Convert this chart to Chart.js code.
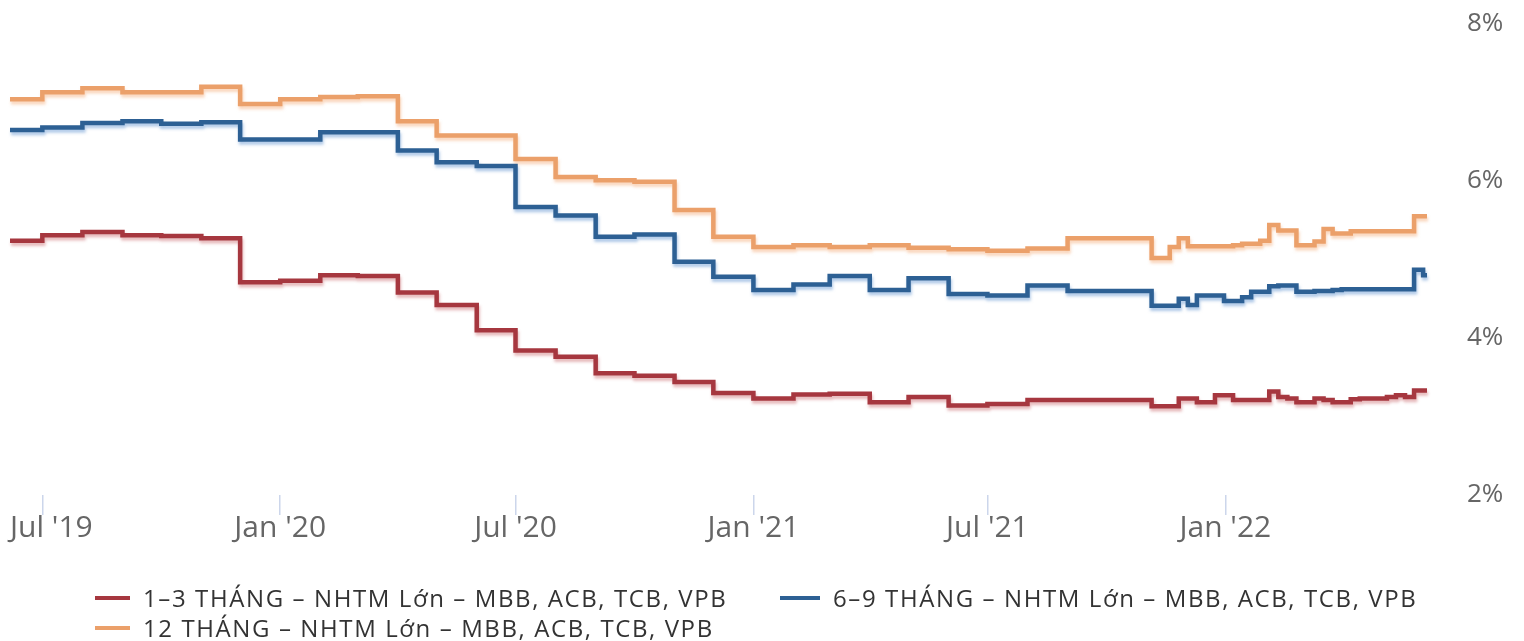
<!DOCTYPE html>
<html>
<head>
<meta charset="utf-8">
<script src="https://cdn.jsdelivr.net/npm/chart.js@4.4.1/dist/chart.umd.min.js"></script>
<style>
  html, body { margin: 0; padding: 0; background: #fff; }
  #wrap { position: relative; width: 1524px; height: 641px; }
  canvas { position: absolute; left: 0; top: 0; }
  .lg { position: absolute; font-family: 'Open Sans', sans-serif; font-size: 24px; letter-spacing: 1.6px; color: #333; white-space: nowrap; line-height: 30px; }
  .sw { position: absolute; height: 4px; }
</style>
</head>
<body>
<div id="wrap">
  <canvas id="c" width="1524" height="641"></canvas>
  <div id="legend"></div>
</div>
<script>
// ---- data ----
const dates = [
  '2019-06-06','2019-07-01','2019-08-01','2019-09-01','2019-10-01','2019-11-01','2019-12-01',
  '2020-01-01','2020-02-01','2020-03-01','2020-04-01','2020-05-01','2020-06-01','2020-07-01',
  '2020-08-01','2020-09-01','2020-10-01','2020-11-01','2020-12-01',
  '2021-01-01','2021-02-01','2021-03-01','2021-04-01','2021-05-01','2021-06-01','2021-07-01',
  '2021-08-01','2021-09-01','2021-10-01',
  '2021-11-05','2021-11-12','2021-11-19','2021-11-26','2021-12-03','2021-12-10','2021-12-17',
  '2021-12-24','2021-12-31','2022-01-07','2022-01-14','2022-01-21','2022-01-28','2022-02-04',
  '2022-02-11','2022-02-18','2022-02-25','2022-03-04','2022-03-11','2022-03-18','2022-03-25',
  '2022-04-01','2022-04-08','2022-04-15','2022-04-22','2022-04-29','2022-05-06','2022-05-13',
  '2022-05-20','2022-05-27','2022-06-03','2022-06-06'
];
const rate1to3 = [
  5.24,5.31,5.35,5.31,5.30,5.27,4.71,
  4.73,4.80,4.79,4.58,4.42,4.10,3.84,
  3.76,3.55,3.52,3.44,3.30,
  3.23,3.28,3.29,3.18,3.25,3.14,3.16,
  3.21,3.21,3.21,
  3.13,3.13,3.13,3.23,3.23,3.18,3.18,
  3.27,3.27,3.21,3.21,3.21,3.21,3.32,
  3.25,3.23,3.18,3.18,3.23,3.21,3.18,
  3.18,3.22,3.23,3.23,3.23,3.25,3.27,
  3.25,3.33,3.33,3.33
];
const rate6to9 = [
  6.65,6.68,6.74,6.76,6.73,6.75,6.53,
  6.53,6.62,6.62,6.39,6.24,6.19,5.67,
  5.56,5.29,5.32,4.97,4.78,
  4.61,4.68,4.79,4.61,4.76,4.56,4.54,
  4.67,4.60,4.60,
  4.41,4.41,4.41,4.50,4.42,4.54,4.54,
  4.54,4.47,4.47,4.52,4.59,4.59,4.66,
  4.67,4.67,4.59,4.59,4.60,4.60,4.61,
  4.62,4.62,4.62,4.62,4.62,4.62,4.62,
  4.62,4.87,4.80,4.80
];
const rate12 = [
  7.04,7.13,7.18,7.13,7.13,7.20,6.98,
  7.04,7.07,7.08,6.76,6.58,6.58,6.28,
  6.05,6.01,5.99,5.63,5.29,
  5.16,5.18,5.16,5.18,5.15,5.13,5.11,
  5.14,5.27,5.27,
  5.02,5.02,5.16,5.27,5.17,5.17,5.17,
  5.17,5.17,5.18,5.20,5.20,5.24,5.44,
  5.37,5.37,5.18,5.18,5.23,5.39,5.33,
  5.33,5.36,5.36,5.36,5.36,5.36,5.36,
  5.36,5.55,5.55,5.55
];
const seriesNames = [
  '1–3 THÁNG – NHTM Lớn – MBB, ACB, TCB, VPB',
  '6–9 THÁNG – NHTM Lớn – MBB, ACB, TCB, VPB',
  '12 THÁNG – NHTM Lớn – MBB, ACB, TCB, VPB'
];
const tickDates = ['2019-07-01','2020-01-01','2020-07-01','2021-01-01','2021-07-01','2022-01-01'];
const tickLabels = ["Jul '19","Jan '20","Jul '20","Jan '21","Jul '21","Jan '22"];
const yTicks = [2,4,6,8];

// ---- helpers ----
const BASE = Date.UTC(2019, 6, 1);
function dayOf(s) { const p = s.split('-').map(Number); return (Date.UTC(p[0], p[1]-1, p[2]) - BASE) / 864e5; }
function pts(vals) { return dates.map((d, i) => ({ x: dayOf(d), y: vals[i] })); }

const colors = ['#a6373f', '#2d6094', '#eba06a'];
const shadows = ['rgba(200,100,105,0.45)', 'rgba(100,150,210,0.5)', 'rgba(245,175,125,0.5)'];

const shadowPlugin = {
  id: 'lineShadow',
  beforeDatasetDraw(chart, args) {
    const ctx = chart.ctx;
    ctx.save();
    ctx.shadowColor = shadows[args.index];
    ctx.shadowBlur = 3;
    ctx.shadowOffsetX = 1;
    ctx.shadowOffsetY = 3;
  },
  afterDatasetDraw(chart) { chart.ctx.restore(); }
};

// keep the first x label inside the plot (justified to the left edge)
const justifyPlugin = {
  id: 'justifyFirstLabel',
  beforeDraw(chart) {
    const items = chart.scales.x.getLabelItems();
    if (items.length) {
      items[0].options.textAlign = 'left';
      items[0].options.translation[0] = chart.chartArea.left;
    }
  }
};

const font = "'Open Sans', sans-serif";
new Chart(document.getElementById('c'), {
  type: 'line',
  data: {
    datasets: [
      { label: seriesNames[0], data: pts(rate1to3), borderColor: colors[0] },
      { label: seriesNames[1], data: pts(rate6to9), borderColor: colors[1] },
      { label: seriesNames[2], data: pts(rate12), borderColor: colors[2] }
    ].map(d => Object.assign(d, { stepped: true, borderWidth: 4.5, pointRadius: 0, fill: false, clip: false, tension: 0 }))
  },
  options: {
    responsive: false,
    animation: false,
    events: [],
    layout: { padding: { left: 10, right: 0, top: 24, bottom: 88 } },
    plugins: { legend: { display: false }, tooltip: { enabled: false } },
    scales: {
      x: {
        type: 'linear',
        min: dayOf(dates[0]),
        max: dayOf(dates[dates.length - 1]),
        afterBuildTicks(scale) { scale.ticks = tickDates.map(d => ({ value: dayOf(d) })); },
        afterFit(scale) { scale.height = 58; scale.paddingLeft = 0; scale.paddingRight = 0; },
        border: { display: false },
        grid: { drawOnChartArea: false, drawTicks: true, tickLength: 20, color: '#ccd6eb', lineWidth: 1.5 },
        ticks: {
          autoSkip: false, maxRotation: 0, padding: -5,
          color: '#666', font: { family: font, size: 30 },
          callback: (v, i) => tickLabels[i]
        }
      },
      y: {
        position: 'right',
        min: 2, max: 8,
        afterBuildTicks(scale) { scale.ticks = yTicks.map(v => ({ value: v })); },
        afterFit(scale) { scale.width = 97; scale.paddingTop = 0; scale.paddingBottom = 0; },
        border: { display: false },
        grid: { display: false, drawTicks: false },
        ticks: {
          padding: 40, color: '#666', font: { family: font, size: 26 },
          callback: v => v + '%'
        }
      }
    }
  },
  plugins: [shadowPlugin, justifyPlugin]
});

// ---- legend (HTML text) ----
const legendPos = [
  { sx: 95, sw: 35, tx: 143, cy: 598 },
  { sx: 780, sw: 40, tx: 833, cy: 598 },
  { sx: 95, sw: 35, tx: 143, cy: 628 }
];
const lg = document.getElementById('legend');
seriesNames.forEach((name, i) => {
  const p = legendPos[i];
  const sw = document.createElement('div');
  sw.className = 'sw';
  sw.style.cssText = `left:${p.sx}px;top:${p.cy - 2}px;width:${p.sw}px;background:${colors[i]}`;
  lg.appendChild(sw);
  const t = document.createElement('div');
  t.className = 'lg';
  t.style.cssText = `left:${p.tx}px;top:${p.cy - 15}px`;
  t.textContent = name;
  lg.appendChild(t);
});
</script>
</body>
</html>
